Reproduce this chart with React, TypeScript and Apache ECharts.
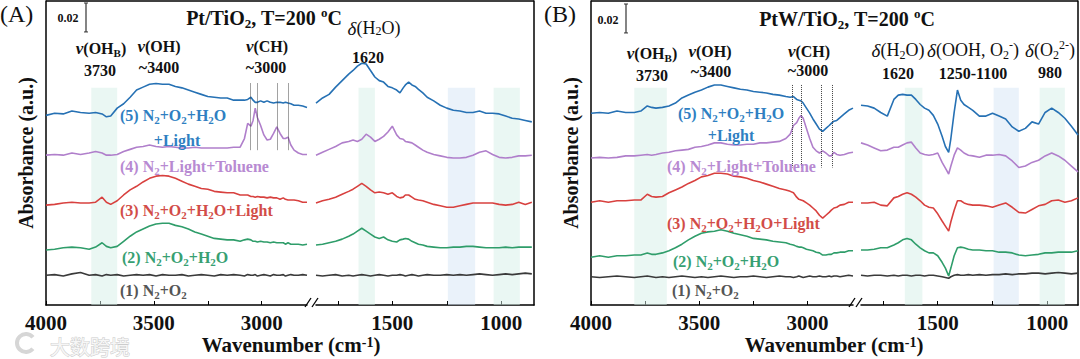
import React, { useEffect, useRef } from 'react';
import * as echarts from 'echarts';

// ---------- wavenumber grids (cm-1) ----------
const LEFT_W = [4000, 3960, 3920, 3880, 3840, 3800, 3770, 3740, 3720, 3700, 3670, 3640, 3610, 3580, 3550, 3520, 3490, 3460, 3430, 3400, 3370, 3340, 3310, 3280, 3250, 3220, 3190, 3160, 3130, 3100, 3080, 3065, 3050, 3040, 3030, 3020, 3005, 2990, 2975, 2960, 2945, 2930, 2915, 2900, 2890, 2878, 2865, 2850, 2830, 2810, 2790];
const RIGHT_W = [1850, 1820, 1790, 1760, 1730, 1700, 1680, 1660, 1640, 1620, 1600, 1580, 1560, 1540, 1520, 1500, 1480, 1465, 1450, 1440, 1425, 1410, 1395, 1380, 1360, 1340, 1310, 1280, 1250, 1220, 1190, 1160, 1130, 1100, 1070, 1040, 1010, 980, 950, 920, 890, 860];

// ---------- absorbance (offset, milli-a.u.) : Panel A  Pt/TiO2 ----------
const A5_L = [131, 132.5, 132, 134, 133, 132.5, 133, 132, 130, 130.5, 136, 139, 143.5, 148.5, 150.5, 152.5, 153, 152.5, 152.5, 151, 150, 148.5, 147, 145.5, 144, 143.5, 143, 143, 141.5, 141.5, 141.5, 142, 143.5, 141.5, 140, 140, 141, 140, 141, 140, 139.5, 140, 140, 139.5, 140, 139.5, 139, 138, 138, 137.5, 136.5];
const A4_L = [103.5, 104, 103.5, 105, 104, 105, 106, 105, 103.5, 103.5, 104, 106, 107.5, 109, 109.5, 110.5, 109.5, 109, 109.5, 109, 108.5, 108.5, 109, 108.5, 108.5, 108.5, 108.5, 108.5, 109, 109, 115, 125.5, 123.5, 127.5, 136, 129.5, 124, 117.5, 114, 114.5, 118.5, 123, 118.5, 115, 115, 116, 110.5, 107, 105, 104, 104];
const A3_L = [69, 69.5, 70.5, 71, 70.5, 70.5, 71, 74.5, 71, 69.5, 72, 76, 79.5, 82, 85, 87.5, 89, 89.5, 89, 87.5, 85.5, 83.5, 82, 80.5, 80, 78.5, 78, 77.5, 77.5, 76, 76, 76, 75, 75, 74.5, 75, 74.5, 74.5, 74, 74.5, 74, 74, 73, 74, 73, 72.5, 72.5, 72.5, 72, 71, 71];
const A2_L = [38, 38.5, 39.5, 40, 39.5, 38.5, 40, 43, 40.5, 39.5, 40.5, 44, 47.5, 50.5, 52.5, 54.5, 56, 56.5, 56.5, 55, 54, 52.5, 50.5, 49, 47.5, 46, 45.5, 45, 45, 44, 45, 45.5, 45, 44, 44, 43.5, 44, 43.5, 43.5, 43, 43.5, 43, 43, 43, 42, 43, 42, 42, 42, 41.5, 42];
const A1_L = [20.5, 21, 20, 21.5, 22.5, 20.5, 21, 20, 21, 20.5, 21, 20, 20.5, 21, 20.5, 21, 20, 21, 20.5, 20.5, 21, 20, 20.5, 21, 20.5, 20, 21, 20.5, 21, 20.5, 20, 21, 20.5, 20.5, 21, 20, 20.5, 21, 20.5, 20, 21, 20.5, 20.5, 21, 20, 20.5, 21, 20.5, 20.5, 21, 20.5];

const A5_R = [139.5, 143, 145.5, 150.5, 155, 159.5, 162, 165, 167, 166.5, 162, 157.5, 155, 154, 151, 150, 148.5, 146.5, 150, 152, 154, 152, 151, 149, 146.5, 143.5, 141, 138, 136, 134.5, 134, 133, 133, 134, 132.5, 132.5, 132, 130.5, 129, 128.5, 127.5, 126.5];
const A4_R = [103.5, 105.5, 107.5, 109.5, 112, 113, 114, 113, 114.5, 118, 116, 113, 114.5, 116.5, 119.5, 123.5, 117.5, 115, 114.5, 113, 112.5, 112, 110.5, 109, 107, 105.5, 104, 103, 102, 101.5, 101.5, 102, 103.5, 105.5, 106.5, 104, 102, 101.5, 102, 103, 103, 103.5];
const A3_R = [70.5, 72, 73, 74.5, 76.5, 78.5, 80, 82, 84, 82, 79.5, 77.5, 78, 77.5, 76.5, 77.5, 75, 74, 74.5, 76, 76, 74.5, 73, 72.5, 72, 71, 69.5, 68.5, 67.5, 67.5, 68.5, 69.5, 70.5, 70.5, 70.5, 70.5, 69.5, 69, 69.5, 71, 69.5, 71];
const A2_R = [41.5, 42, 43, 44, 45.5, 47.5, 49, 51, 53, 51, 49, 47, 46, 47, 45, 44, 43.5, 45, 45.5, 46, 45.5, 44, 43, 42, 41.5, 40.5, 40, 39.5, 39.5, 40, 40, 40.5, 40.5, 40, 39.5, 39.5, 39.5, 40, 39.5, 40, 40, 40];
const A1_R = [20.5, 20, 20.5, 21, 20, 20.5, 20, 20.5, 21, 20.5, 20, 20.5, 21, 20.5, 20, 20.5, 20.5, 21, 20.5, 20, 20.5, 21, 20.5, 20, 20.5, 21, 20.5, 20.5, 21, 20.5, 21, 20.5, 21, 21.5, 21, 20.5, 21, 21.5, 21, 21.5, 22, 21.5];

// ---------- Panel B  PtW/TiO2 ----------
const B5_L = [132.5, 133, 132.5, 134, 133, 133, 134, 137.5, 136.5, 136, 136.5, 137.5, 139.5, 143, 145, 147, 148.5, 150.5, 152, 152, 151, 150, 149, 148.5, 147.5, 147, 146.5, 145.5, 145, 144, 143.5, 144, 142, 141.5, 141, 139.5, 136, 132.5, 128.5, 125, 121.5, 120, 122, 124, 125.5, 127, 127.5, 129.5, 132, 134.5, 136];
const B4_L = [101.5, 102, 101.5, 102, 103, 103, 103.5, 104, 103.5, 104, 105, 105.5, 106.5, 107, 107.5, 109, 109.5, 110.5, 112, 112, 111, 110.5, 110.5, 111, 111, 112, 112, 112.5, 113, 115, 118, 124, 126, 129, 131, 129, 122, 115, 109, 106.5, 105, 106.5, 105, 103, 103, 105.5, 104, 103.5, 104, 105, 105.5];
const B3_L = [71, 72, 71, 72, 72, 72.5, 72.5, 76.5, 75, 74.5, 75, 77.5, 79.5, 81.5, 84, 86, 88.5, 89.5, 91, 91, 90.5, 89, 88.5, 87.5, 86, 85, 83.5, 82, 80.5, 79.5, 78.5, 77.5, 74.5, 73, 72.5, 72, 70.5, 69, 67, 65, 62, 60, 62, 64, 65.5, 67, 67.5, 69, 69.5, 71, 71];
const B2_L = [33, 34, 33, 34, 34, 34.5, 34.5, 36, 35, 35, 36, 37.5, 39.5, 42, 45, 47.5, 49.5, 50.5, 51, 52, 51, 49.5, 48.5, 47.5, 46, 45.5, 45, 44, 43.5, 43, 42, 41.5, 40.5, 40, 40, 39.5, 38.5, 38, 37.5, 36.5, 36, 34.5, 34.5, 35, 35, 36, 36, 36.5, 36.5, 37.5, 37.5];
const B1_L = [19.5, 19, 19.5, 20, 19.5, 19, 19.5, 20, 19.5, 19, 19.5, 19, 19.5, 20, 19.5, 19, 19.5, 19, 19.5, 20, 19.5, 19, 19.5, 19.5, 20, 19.5, 19, 19.5, 20, 19.5, 19.5, 19, 19.5, 20, 19.5, 19, 19.5, 20, 19.5, 19.5, 20, 19.5, 19.5, 20, 19.5, 20, 20, 19.5, 20, 20.5, 20];

const B5_R = [138, 137.5, 136, 133, 130.5, 142, 145, 145.5, 145, 145, 142, 138.5, 136, 134.5, 131, 125, 116.5, 109.5, 105.5, 115, 133, 148.5, 141.5, 138.5, 136.5, 134.5, 130.5, 130.5, 132.5, 130.5, 128.5, 123, 120, 122, 126.5, 125, 133, 136, 133, 129, 123.5, 117.5];
const B4_R = [112, 110.5, 108.5, 106.5, 107, 109, 109, 110.5, 112, 112.5, 108.5, 105, 104, 103.5, 104, 105, 98.5, 94.5, 90.5, 96, 103.5, 108.5, 107, 105, 103.5, 103, 102, 103.5, 103.5, 104, 103, 99.5, 95, 96, 98.5, 100, 103, 105, 103, 100, 96, 92];
const B3_R = [70.5, 70.5, 71, 69, 68.5, 74, 75, 76.5, 77.5, 76.5, 74.5, 72, 69, 67.5, 67, 63, 58, 54.5, 51, 57.5, 65.5, 72, 72, 70.5, 69.5, 69, 69, 68.5, 67.5, 69, 70.5, 67.5, 64, 63.5, 66, 68.5, 69.5, 72, 72.5, 71, 72, 74];
const B2_R = [38, 38, 38.5, 39.5, 39.5, 41.5, 43, 45, 46, 45, 42, 39.5, 37.5, 36, 36, 34, 29.5, 25.5, 20, 25.5, 34, 39.5, 40, 39.5, 38.5, 38, 38, 37.5, 37.5, 36.5, 36.5, 36, 34.5, 34, 34.5, 35, 36, 36, 36.5, 36.5, 36.5, 37.5];
const B1_R = [20.5, 20, 20.5, 20.5, 20, 20.5, 20, 20.5, 20.5, 20, 20.5, 20.5, 20, 20.5, 20.5, 20, 19.5, 19, 18.5, 19.5, 20.5, 21, 20.5, 20.5, 21, 20.5, 21, 20.5, 21, 21, 21.5, 21, 21.5, 21.5, 22, 22, 21.5, 22, 22.5, 22, 21.5, 22];

// ---------- axes ----------
const LEFT_TICKS = [4000, 3750, 3500, 3250, 3000];
const LEFT_LABELS = [4000, 3500, 3000];
const RIGHT_TICKS = [1750, 1500, 1250, 1000];
const RIGHT_LABELS = [1500, 1000];

// shaded bands [from, to, kind]
const A_BANDS: [number, number, string][] = [[3790, 3670, 'g'], [1655, 1580, 'g'], [1245, 1120, 'b'], [1035, 915, 'g']];
const B_BANDS: [number, number, string][] = [[3800, 3650, 'g'], [1650, 1570, 'g'], [1245, 1130, 'b'], [1035, 920, 'g']];
const BAND_TOP = 150;
// dotted C-H markers [wavenumber]
const A_CH = [3054, 3022, 2929, 2878];
const B_CH = [3069, 3028, 2936, 2885];
const A_CH_Y = [153, 107];
const B_CH_Y = [152, 95];
const SCALE_BAR = 20; // 0.02 a.u.

const SERIF = '"Liberation Serif","Times New Roman",serif';
const C = { blue: '#2671b4', purple: '#b07fcb', red: '#d8413f', green: '#2f9d6a', gray: '#3a3a3a' };
const LC = { blue: '#2f7fc2', purple: '#b88ad2', red: '#d24c48', green: '#37a072', gray: '#555555' };

function rt(text: string, x: number, y: number, size: number, color: string, align = 'left', weight = 'bold', lh = size + 4) {
  const base = { fontFamily: SERIF, fontWeight: weight, fill: color };
  const small = Math.round(size * 0.66);
  return {
    type: 'text', x, y, z: 20, silent: true,
    style: {
      text, ...base, fontSize: size, lineHeight: lh, align, verticalAlign: 'middle',
      rich: {
        s: { ...base, fontSize: small, lineHeight: small, verticalAlign: 'bottom' },
        p: { ...base, fontSize: small, lineHeight: small, verticalAlign: 'top' },
        g: { ...base, fontSize: size + 1, fontStyle: 'italic', lineHeight: lh },
      },
    },
  };
}
function ln(x1: number, y1: number, x2: number, y2: number, w = 1.5, color = '#000') {
  return { type: 'line', silent: true, z: 20, shape: { x1, y1, x2, y2 }, style: { stroke: color, lineWidth: w } };
}

export default function App() {
  const ref = useRef<HTMLDivElement>(null);
  useEffect(() => {
    document.body.style.margin = '0';
    const chart = echarts.init(ref.current!, null, { renderer: 'svg' });

    const grids = [
      { left: 46, top: 1, width: 261, height: 304 },
      { left: 316, top: 1, width: 218, height: 304 },
      { left: 591, top: 1, width: 262, height: 304 },
      { left: 861, top: 1, width: 217, height: 304 },
    ];
    const ranges = [[2790, 4000], [850, 1850], [2790, 4000], [860, 1850]];
    const xAxis = ranges.map((r, i) => {
      const isLeft = i % 2 === 0;
      return {
        type: 'value', gridIndex: i, inverse: true, min: r[0], max: r[1],
        axisLine: { show: true, onZero: false, lineStyle: { color: '#000', width: 1.5 } },
        axisTick: { show: true, inside: true, length: 4, customValues: isLeft ? LEFT_TICKS : RIGHT_TICKS, lineStyle: { color: '#000', width: 1 } },
        axisLabel: {
          show: true, customValues: isLeft ? LEFT_LABELS : RIGHT_LABELS, margin: 10, showMinLabel: true, showMaxLabel: true,
          formatter: (v: number) => String(v), lineHeight: 16,
          fontFamily: SERIF, fontWeight: 'bold', fontSize: 21, color: '#111',
        },
        splitLine: { show: false },
      };
    });
    const yAxis = [0, 1, 2, 3].map((i) => ({
      type: 'value', gridIndex: i, min: 0, max: 210, position: i % 2 === 0 ? 'left' : 'right',
      axisLine: { show: true, lineStyle: { color: '#000', width: 1.5 } },
      axisTick: { show: false }, axisLabel: { show: false }, splitLine: { show: false },
    }));

    const trace = (w: number[], v: number[], idx: number, color: string, extra: any = {}) => ({
      type: 'line', xAxisIndex: idx, yAxisIndex: idx, data: w.map((x, k) => [x, v[k]]),
      showSymbol: false, symbol: 'none', silent: true, z: 2,
      lineStyle: { color, width: 1.6 }, itemStyle: { color }, ...extra,
    });
    const bandColor = (k: string) => (k === 'b' ? 'rgba(214,230,246,0.5)' : 'rgba(214,240,231,0.5)');
    const markArea = (bands: [number, number, string][]) => ({
      silent: true,
      data: bands.map(([a, b, k]) => [{ coord: [a, BAND_TOP], itemStyle: { color: bandColor(k) } }, { coord: [b, 0] }]),
    });
    const markLine = (xs: number[], ys: number[]) => ({
      silent: true, symbol: ['none', 'none'], label: { show: false },
      lineStyle: { type: 'dotted', color: '#444', width: 1 },
      data: xs.map((x) => [{ coord: [x, ys[0]] }, { coord: [x, ys[1]] }]),
    });

    const series = [
      // Panel A left
      trace(LEFT_W, A1_L, 0, C.gray, { markArea: markArea(A_BANDS.slice(0, 1)), markLine: markLine(A_CH, A_CH_Y) }),
      trace(LEFT_W, A2_L, 0, C.green),
      trace(LEFT_W, A3_L, 0, C.red),
      trace(LEFT_W, A4_L, 0, C.purple),
      trace(LEFT_W, A5_L, 0, C.blue),
      // Panel A right
      trace(RIGHT_W, A1_R, 1, C.gray, { markArea: markArea(A_BANDS.slice(1)) }),
      trace(RIGHT_W, A2_R, 1, C.green),
      trace(RIGHT_W, A3_R, 1, C.red),
      trace(RIGHT_W, A4_R, 1, C.purple),
      trace(RIGHT_W, A5_R, 1, C.blue),
      // Panel B left
      trace(LEFT_W, B1_L, 2, C.gray, { markArea: markArea(B_BANDS.slice(0, 1)), markLine: markLine(B_CH, B_CH_Y) }),
      trace(LEFT_W, B2_L, 2, C.green),
      trace(LEFT_W, B3_L, 2, C.red),
      trace(LEFT_W, B4_L, 2, C.purple),
      trace(LEFT_W, B5_L, 2, C.blue),
      // Panel B right
      trace(RIGHT_W, B1_R, 3, C.gray, { markArea: markArea(B_BANDS.slice(1)) }),
      trace(RIGHT_W, B2_R, 3, C.green),
      trace(RIGHT_W, B3_R, 3, C.red),
      trace(RIGHT_W, B4_R, 3, C.purple),
      trace(RIGHT_W, B5_R, 3, C.blue),
    ];

    const barPx = (SCALE_BAR / 210) * 304;
    const graphic: any[] = [
      // frames (top border; right border is the right y axis)
      ln(46, 1, 534, 1), ln(591, 1, 1078, 1),
      // axis breaks
      ln(305, 307, 311, 298, 1.3), ln(312, 307, 318, 298, 1.3),
      ln(849, 307, 855, 298, 1.3), ln(856, 307, 862, 298, 1.3),
      // scale bars
      ln(86, 3, 86, 3 + barPx, 1.2, '#333'), ln(84, 3, 88, 3, 1, '#333'), ln(84, 3 + barPx, 88, 3 + barPx, 1, '#333'),
      ln(626, 4, 626, 4 + barPx, 1.2, '#333'), ln(624, 4, 628, 4, 1, '#333'), ln(624, 4 + barPx, 628, 4 + barPx, 1, '#333'),
      rt('0.02', 68, 18, 12, '#111', 'center'),
      rt('0.02', 608, 20, 12, '#111', 'center'),
      // panel letters
      rt('(A)', 0, 14, 24, '#111', 'left', 'normal'),
      rt('(B)', 544, 14, 24, '#111', 'left', 'normal'),
      // titles
      rt('Pt/TiO{s|2}, T=200 {p|o}C', 264, 18, 20, '#111', 'center'),
      rt('PtW/TiO{s|2}, T=200 {p|o}C', 847, 19, 20, '#111', 'center'),
      // y axis names
      { ...rt('Absorbance (a.u.)', 26, 153, 20, '#111', 'center'), rotation: Math.PI / 2 },
      { ...rt('Absorbance (a.u.)', 571, 153, 20, '#111', 'center'), rotation: Math.PI / 2 },
      // x axis names
      rt('Wavenumber (cm{p|-1})', 291, 345, 21, '#111', 'center', 'bold', 20),
      rt('Wavenumber (cm{p|-1})', 834, 345, 21, '#111', 'center', 'bold', 20),
      // Panel A annotations
      rt('{g|ν}(OH{s|B})', 101, 48, 16, '#111', 'center'),
      rt('3730', 100, 70, 16, '#111', 'center'),
      rt('{g|ν}(OH)', 159, 46, 16, '#111', 'center'),
      rt('~3400', 159, 67, 16, '#111', 'center'),
      rt('{g|ν}(CH)', 267, 46, 16, '#111', 'center'),
      rt('~3000', 266, 67, 16, '#111', 'center'),
      rt('{g|δ}(H{s|2}O)', 374, 28, 18, '#111', 'center', 'normal', 18),
      rt('1620', 368, 57, 16, '#111', 'center'),
      // Panel B annotations
      rt('{g|ν}(OH{s|B})', 652, 53, 16, '#111', 'center'),
      rt('3730', 652, 75, 16, '#111', 'center'),
      rt('{g|ν}(OH)', 710, 51, 16, '#111', 'center'),
      rt('~3400', 711, 71, 16, '#111', 'center'),
      rt('{g|ν}(CH)', 809, 51, 16, '#111', 'center'),
      rt('~3000', 808, 70, 16, '#111', 'center'),
      rt('{g|δ}(H{s|2}O)', 898, 50, 18, '#111', 'center', 'normal'),
      rt('1620', 898, 73, 16, '#111', 'center'),
      rt('{g|δ}(OOH, O{s|2}{p|-})', 973, 50, 18, '#111', 'center', 'normal'),
      rt('1250-1100', 973, 73, 16, '#111', 'center'),
      rt('{g|δ}(O{s|2}{p|2-})', 1050, 50, 18, '#111', 'center', 'normal'),
      rt('980', 1050, 72, 16, '#111', 'center'),
      // Panel A trace labels
      rt('(5) N{s|2}+O{s|2}+H{s|2}O', 120, 115, 16, LC.blue),
      rt('+Light', 177, 140, 16, LC.blue, 'center'),
      rt('(4) N{s|2}+Light+Toluene', 120, 166, 16, LC.purple),
      rt('(3) N{s|2}+O{s|2}+H{s|2}O+Light', 120, 210, 16, LC.red),
      rt('(2) N{s|2}+O{s|2}+H{s|2}O', 122, 257, 16, LC.green),
      rt('(1) N{s|2}+O{s|2}', 120, 290, 16, LC.gray),
      // Panel B trace labels
      rt('(5) N{s|2}+O{s|2}+H{s|2}O', 678, 113, 16, LC.blue),
      rt('+Light', 731, 135, 16, LC.blue, 'center'),
      rt('(4) N{s|2}+Light+Toluene', 667, 166, 16, LC.purple),
      rt('(3) N{s|2}+O{s|2}+H{s|2}O+Light', 667, 223, 16, LC.red),
      rt('(2) N{s|2}+O{s|2}+H{s|2}O', 673, 261, 16, LC.green),
      rt('(1) N{s|2}+O{s|2}', 672, 290, 16, LC.gray),
      // watermark
      { type: 'arc', silent: true, z: 19, shape: { cx: 26, cy: 343, r: 9, startAngle: 0.7, endAngle: 5.6 }, style: { stroke: '#d6d6d6', lineWidth: 4, fill: 'none' } },
      {
        type: 'text', x: 50, y: 346, z: 19, silent: true,
        style: { text: '大数跨境', fontFamily: '"Noto Sans CJK SC",sans-serif', fontSize: 20, lineHeight: 14, fill: '#f6f6f6', stroke: '#cccccc', lineWidth: 1, verticalAlign: 'middle' },
      },
    ];

    chart.setOption({
      animation: false,
      backgroundColor: '#ffffff',
      grid: grids,
      xAxis,
      yAxis,
      series,
      graphic,
    });
    return () => chart.dispose();
  }, []);
  return <div ref={ref} style={{ position: 'absolute', left: 0, top: 0, width: 1080, height: 359 }} />;
}
